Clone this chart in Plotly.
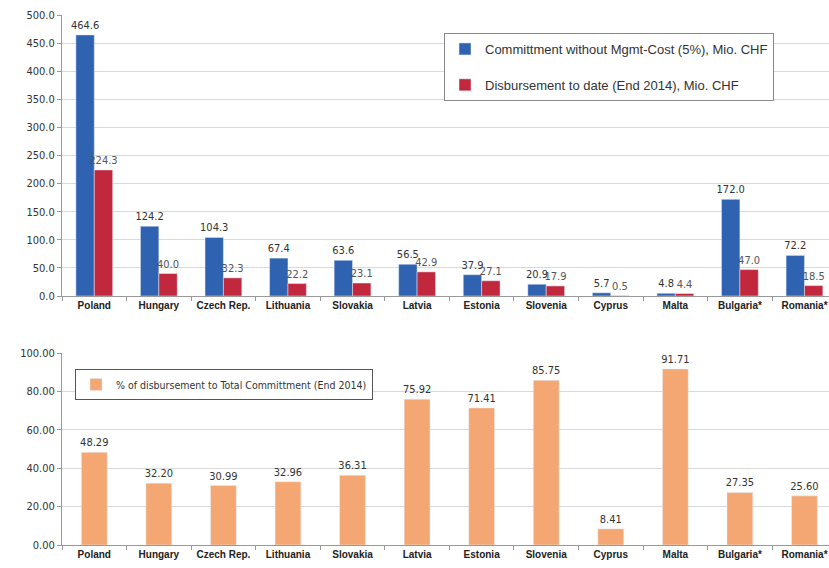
import plotly.graph_objects as go

countries = ["Poland", "Hungary", "Czech Rep.", "Lithuania", "Slovakia", "Latvia",
             "Estonia", "Slovenia", "Cyprus", "Malta", "Bulgaria*", "Romania*"]
commitment = [464.6, 124.2, 104.3, 67.4, 63.6, 56.5, 37.9, 20.9, 5.7, 4.8, 172.0, 72.2]
disbursement = [224.3, 40.0, 32.3, 22.2, 23.1, 42.9, 27.1, 17.9, 0.5, 4.4, 47.0, 18.5]
percent = [48.29, 32.20, 30.99, 32.96, 36.31, 75.92, 71.41, 85.75, 8.41, 91.71, 27.35, 25.60]

FONT = "DejaVu Sans Condensed, Liberation Sans, sans-serif"
LFONT = "Liberation Sans, sans-serif"
BLUE = "#2F63B1"
RED = "#C1283E"
ORANGE = "#F5A773"

fig = go.Figure()
fig.add_trace(go.Bar(
    x=countries, y=commitment, name="Committment without Mgmt-Cost (5%), Mio. CHF",
    marker_color=BLUE, text=[f"{v:.1f}" for v in commitment], textposition="outside",
    constraintext="none",
    textfont=dict(family=FONT, size=11, color="#333333"), cliponaxis=False,
    xaxis="x", yaxis="y", legend="legend", legendgroup="a"))
fig.add_trace(go.Bar(
    x=countries, y=disbursement, name="Disbursement to date (End 2014), Mio. CHF",
    marker_color=RED, text=[f"{v:.1f}" for v in disbursement], textposition="outside",
    constraintext="none",
    textfont=dict(family=FONT, size=11, color="#555555"), cliponaxis=False,
    xaxis="x", yaxis="y", legend="legend", legendgroup="b"))
fig.add_trace(go.Bar(
    x=countries, y=percent, name="% of disbursement to Total Committment (End 2014)",
    marker_color=ORANGE, text=[f"{v:.2f}" for v in percent], textposition="outside",
    constraintext="none",
    textfont=dict(family=FONT, size=11, color="#333333"), cliponaxis=False,
    xaxis="x2", yaxis="y2", legend="legend2", width=0.4))

H = 568.0
xr = [-0.5, 11.38]
axis_common = dict(showline=True, linecolor="#999999", linewidth=1, tickangle=0,
                   ticks="outside", tickson="boundaries", ticklen=4, tickcolor="#999999",
                   tickfont=dict(family=LFONT, size=10, color="#222222", weight="bold"),
                   range=xr, domain=[62/829, 1.0], automargin=False)
ytick_font = dict(family=FONT, size=11, color="#333333")
fig.update_layout(
    width=829, height=568, margin=dict(l=0, r=0, t=0, b=0, autoexpand=False),
    paper_bgcolor="white", plot_bgcolor="white",
    barmode="group", bargap=0.43, bargroupgap=0,
    showlegend=True,
    xaxis=dict(**axis_common, anchor="y"),
    xaxis2=dict(**axis_common, anchor="y2"),
    yaxis=dict(domain=[1-296/H, 1-15/H], range=[0, 500], dtick=50, tickformat=".1f",
               showgrid=True, gridcolor="#D9D9D9", showline=True, linecolor="#999999",
               ticks="outside", ticklen=4, tickcolor="#999999", zeroline=False,
               tickfont=ytick_font, automargin=False),
    yaxis2=dict(domain=[1-545/H, 1-353/H], range=[0, 100], dtick=20, tickformat=".2f",
                showgrid=True, gridcolor="#D9D9D9", showline=True, linecolor="#999999",
                ticks="outside", ticklen=4, tickcolor="#999999", zeroline=False,
                tickfont=ytick_font, anchor="x2", automargin=False),
    legend=dict(x=444/829, y=1-33/H, xanchor="left", yanchor="top",
                bordercolor="#888888", borderwidth=1, bgcolor="white",
                font=dict(family=LFONT, size=13, color="#333333"),
                tracegroupgap=16, itemwidth=30),
    legend2=dict(x=75/829, y=1-369/H, xanchor="left", yanchor="top",
                 bordercolor="#555555", borderwidth=1, bgcolor="white",
                 font=dict(family=FONT, size=10.5, color="#333333"), itemwidth=30),
)
fig.write_html("out.html")
